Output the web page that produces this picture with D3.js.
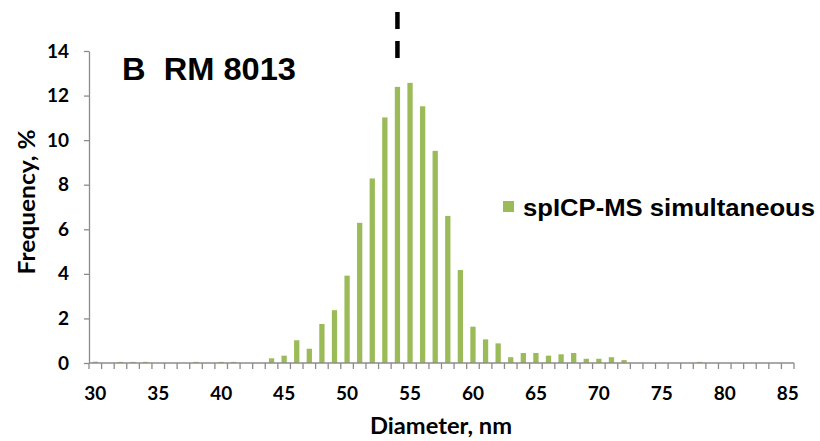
<!DOCTYPE html>
<html>
<head>
<meta charset="utf-8">
<script src="https://cdn.jsdelivr.net/npm/d3@7"></script>
<style>
  body { margin: 0; background: #fff; }
  svg text { fill: #000; }
</style>
</head>
<body>
<div id="chart"></div>
<script>
// diameter bins, nm
const diameters = d3.range(30, 86);
// frequency in %, one per bin
const frequency = [
  0.06, 0, 0.05, 0.05, 0.05, 0, 0, 0, 0.05, 0,
  0.05, 0.05, 0, 0, 0.21, 0.33, 1.02, 0.64, 1.75, 2.37,
  3.92, 6.29, 8.28, 11.02, 12.39, 12.57, 11.52, 9.52, 6.6, 4.17,
  1.63, 1.06, 0.88, 0.26, 0.45, 0.45, 0.33, 0.39, 0.45, 0.19,
  0.19, 0.26, 0.13, 0, 0, 0, 0, 0, 0.05, 0,
  0, 0, 0, 0, 0, 0
];
const xLabels = [30, 35, 40, 45, 50, 55, 60, 65, 70, 75, 80, 85];
const yTicks = [0, 2, 4, 6, 8, 10, 12, 14];
const markerDiameter = 54;
const seriesName = "spICP-MS simultaneous";
const panelTitle = "B  RM 8013";

const data = diameters.map((d, i) => ({ d: d, v: frequency[i] }));

const W = 820, H = 441;
const plot = { left: 89, right: 794, top: 51, bottom: 363 };
const axisColor = "#8c8c8c";
const barColor = "#9bbb59";
const tickFont = "'Lato', 'Liberation Sans', sans-serif";
const arial = "'Liberation Sans', Arial, sans-serif";

const svg = d3.select("#chart").append("svg")
  .attr("width", W).attr("height", H);

const x = d3.scaleBand()
  .domain(diameters)
  .range([plot.left, plot.right])
  .paddingInner(0.58)
  .paddingOuter(0.29);

const y = d3.scaleLinear()
  .domain([0, 14])
  .range([plot.bottom, plot.top]);

// bars
svg.append("g")
  .selectAll("rect")
  .data(data)
  .enter()
  .append("rect")
    .attr("x", d => x(d.d))
    .attr("y", d => y(d.v))
    .attr("width", x.bandwidth())
    .attr("height", d => y(0) - y(d.v))
    .attr("fill", barColor);

// y axis
const yAxis = svg.append("g")
  .attr("transform", "translate(" + plot.left + ",0)")
  .call(d3.axisLeft(y).tickValues(yTicks).tickSize(5).tickSizeOuter(0).tickPadding(15));
yAxis.select(".domain").attr("stroke", axisColor).attr("stroke-width", 1.3);
yAxis.selectAll(".tick line").attr("stroke", axisColor).attr("stroke-width", 1.3);
yAxis.selectAll(".tick text")
  .attr("font-family", tickFont).attr("font-weight", "bold").attr("font-size", 19);

// x axis: ticks between categories, labels every 5 nm
const step = x.step();
const xAxis = svg.append("g")
  .attr("transform", "translate(0," + plot.bottom + ")");
xAxis.append("line")
  .attr("x1", plot.left).attr("x2", plot.right)
  .attr("stroke", axisColor).attr("stroke-width", 1.3);
xAxis.selectAll(".cat-tick")
  .data(d3.range(diameters.length + 1))
  .enter()
  .append("line")
    .attr("class", "cat-tick")
    .attr("x1", i => plot.left + i * step)
    .attr("x2", i => plot.left + i * step)
    .attr("y1", 0).attr("y2", 6)
    .attr("stroke", axisColor).attr("stroke-width", 1.3);

const xLab = svg.append("g")
  .attr("transform", "translate(0," + plot.bottom + ")")
  .call(d3.axisBottom(x).tickValues(xLabels).tickSize(0));
xLab.select(".domain").remove();
xLab.selectAll(".tick text")
  .attr("y", 37).attr("dy", 0)
  .attr("font-family", tickFont).attr("font-weight", "bold").attr("font-size", 19);

// axis titles
svg.append("text")
  .attr("x", 441)
  .attr("y", 434)
  .attr("text-anchor", "middle")
  .attr("font-family", tickFont).attr("font-weight", "bold").attr("font-size", 22)
  .attr("textLength", 142).attr("lengthAdjust", "spacingAndGlyphs")
  .text("Diameter, nm");

svg.append("text")
  .attr("transform", "translate(35,202) rotate(-90)")
  .attr("text-anchor", "middle")
  .attr("font-family", tickFont).attr("font-weight", "bold").attr("font-size", 22)
  .attr("textLength", 145).attr("lengthAdjust", "spacingAndGlyphs")
  .text("Frequency, %");

// dashed marker at the reference diameter
const mx = x(markerDiameter) + x.bandwidth() / 2;
svg.append("line")
  .attr("x1", mx).attr("x2", mx)
  .attr("y1", 12).attr("y2", 59)
  .attr("stroke", "#000").attr("stroke-width", 4.5)
  .attr("stroke-dasharray", "17,12");

// panel title
svg.append("text")
  .attr("x", 122).attr("y", 80)
  .attr("font-family", arial)
  .attr("font-weight", "bold").attr("font-size", 31)
  .attr("textLength", 174).attr("lengthAdjust", "spacingAndGlyphs")
  .style("white-space", "pre")
  .text(panelTitle);

// legend
svg.append("rect")
  .attr("x", 503).attr("y", 201)
  .attr("width", 11).attr("height", 11)
  .attr("fill", barColor);
svg.append("text")
  .attr("x", 523).attr("y", 216)
  .attr("font-family", arial)
  .attr("font-weight", "bold").attr("font-size", 23)
  .attr("textLength", 292).attr("lengthAdjust", "spacingAndGlyphs")
  .text(seriesName);
</script>
</body>
</html>
